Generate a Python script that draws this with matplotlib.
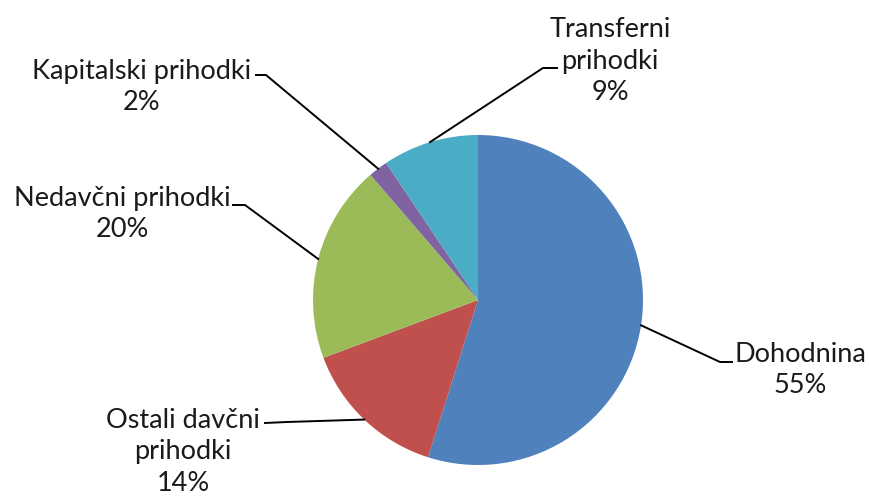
import numpy as np
import matplotlib
matplotlib.use("Agg")
import matplotlib.pyplot as plt

categories = ["Dohodnina", "Ostali davčni\nprihodki", "Nedavčni prihodki", "Kapitalski prihodki", "Transferni\nprihodki"]
values = [54.9, 14.4, 19.4, 1.9, 9.4]
pct_labels = ["55%", "14%", "20%", "2%", "9%"]
colors = ["#4F81BD", "#C0504D", "#9BBB59", "#8064A2", "#4BACC6"]

W, H = 869, 500
fig = plt.figure(figsize=(W / 100, H / 100), dpi=100)
ax = fig.add_axes([0, 0, 1, 1])

cx, cy, r = 478, H - 300, 165
wedges, _ = ax.pie(values, colors=colors, startangle=90, counterclock=False,
                   center=(cx, cy), radius=r, frame=True,
                   wedgeprops=dict(linewidth=0))
ax.set_xlim(0, W)
ax.set_ylim(0, H)
ax.set_aspect("equal")
ax.axis("off")

# label layout: (text center x, text center y in pixel-down coords, elbow, end of horizontal)
layout = [
    dict(tx=800, ty=370, elbow=(720, 362), end=(732, 362)),
    dict(tx=183, ty=452, elbow=(287, 422), end=(265, 423)),
    dict(tx=122, ty=214, elbow=(245, 205), end=(233, 205)),
    dict(tx=142, ty=87, elbow=(266, 75), end=(256, 75)),
    dict(tx=610, ty=61, elbow=(543, 68), end=(557, 68)),
]

font = ["Lato", "DejaVu Sans"]
for w, cat, pct, lay in zip(wedges, categories, pct_labels, layout):
    mid = np.deg2rad((w.theta1 + w.theta2) / 2)
    px = cx + r * np.cos(mid)
    py = cy + r * np.sin(mid)
    ex, ey = lay["elbow"]
    hx, hy = lay["end"]
    ax.plot([px, ex, hx], [py, H - ey, H - hy], color="black", lw=1.4,
            solid_joinstyle="miter", zorder=3)
    ax.text(lay["tx"], H - lay["ty"], cat + "\n" + pct, ha="center", va="center",
            fontsize=19.5, family=font, color="#1a1a1a", linespacing=1.33)

fig.savefig("out.png", dpi=100)
